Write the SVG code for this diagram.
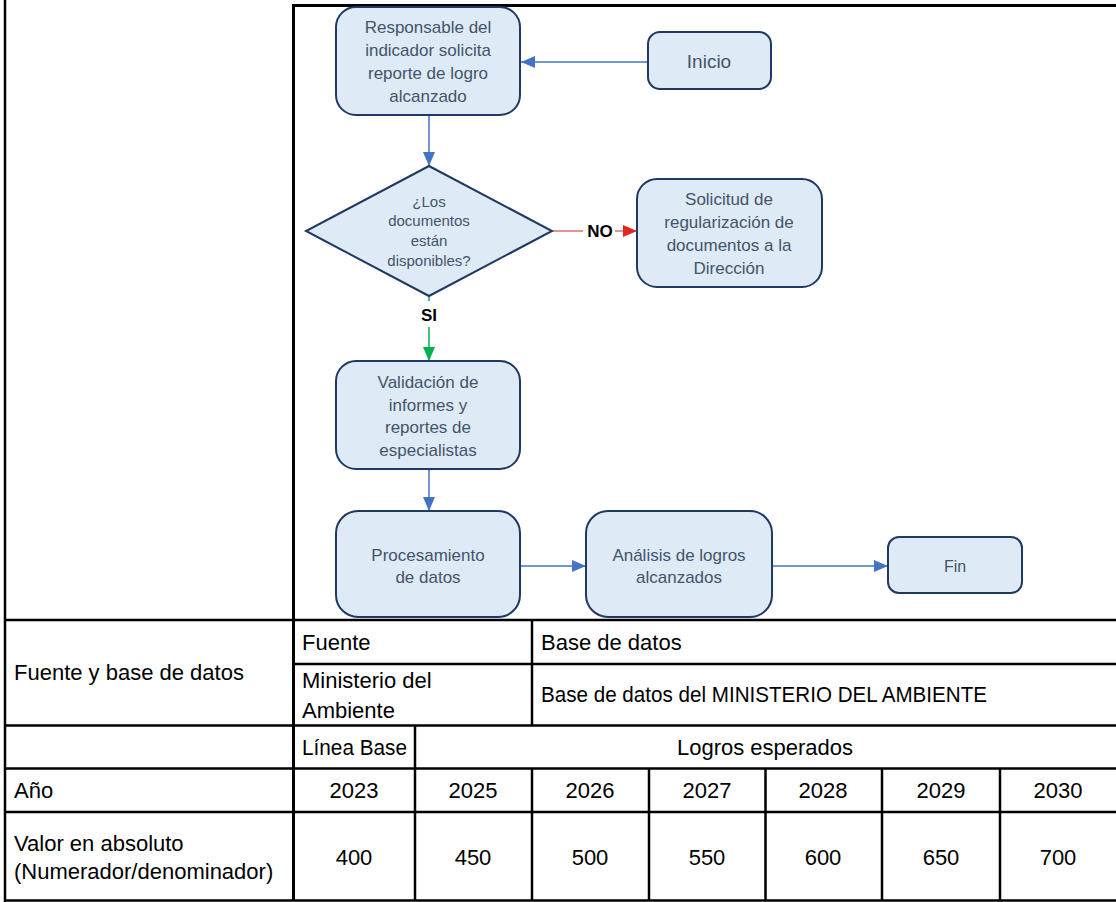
<svg xmlns="http://www.w3.org/2000/svg" width="1116" height="902" viewBox="0 0 1116 902">
<style>
.box{fill:#DEEAF6;stroke:#1F3864;stroke-width:2}
.bt{font-family:"Liberation Sans",Arial,sans-serif;font-size:17px;fill:#44546A;text-anchor:middle}
.dt{font-family:"Liberation Sans",Arial,sans-serif;font-size:15px;fill:#44546A;text-anchor:middle}
.lbl{font-family:"Liberation Sans",Arial,sans-serif;font-size:17px;font-weight:bold;fill:#000;text-anchor:middle}
.tt{font-family:"Liberation Sans",Arial,sans-serif;font-size:22px;fill:#000}
.tc{text-anchor:middle}
.grid{stroke:#000;stroke-width:2.5;fill:none}
.cb{stroke:#4472C4;stroke-width:1.5;fill:none}
.cr{stroke:#E86A6A;stroke-width:1.5;fill:none}
.cg{stroke:#00B050;stroke-width:1.5;fill:none}
</style>
<defs>
<marker id="ab" viewBox="0 0 14 12" refX="14" refY="6" markerWidth="14" markerHeight="12" markerUnits="userSpaceOnUse" orient="auto"><path d="M0,0 L14,6 L0,12 z" fill="#4472C4"/></marker>
<marker id="ar" viewBox="0 0 14 12" refX="14" refY="6" markerWidth="14" markerHeight="12" markerUnits="userSpaceOnUse" orient="auto"><path d="M0,0 L14,6 L0,12 z" fill="#E52620"/></marker>
<marker id="ag" viewBox="0 0 14 12" refX="14" refY="6" markerWidth="14" markerHeight="12" markerUnits="userSpaceOnUse" orient="auto"><path d="M0,0 L14,6 L0,12 z" fill="#00B050"/></marker>
</defs>
<rect x="0" y="0" width="1116" height="902" fill="#fff"/>

<g id="table-grid" class="grid">
<line x1="5" y1="0" x2="5" y2="902"/>
<line x1="293.5" y1="4" x2="293.5" y2="901" style="stroke-width:3"/>
<line x1="292" y1="5.5" x2="1116" y2="5.5" style="stroke-width:3"/>
<line x1="4" y1="620" x2="1116" y2="620"/>
<line x1="293" y1="664" x2="1116" y2="664"/>
<line x1="4" y1="725.5" x2="1116" y2="725.5"/>
<line x1="4" y1="768.5" x2="1116" y2="768.5"/>
<line x1="4" y1="812" x2="1116" y2="812"/>
<line x1="4" y1="900.5" x2="1116" y2="900.5"/>
<line x1="415" y1="725" x2="415" y2="901"/>
<line x1="532" y1="620" x2="532" y2="726"/>
<line x1="532" y1="768" x2="532" y2="901"/>
<line x1="649" y1="768" x2="649" y2="901"/>
<line x1="765.5" y1="768" x2="765.5" y2="901"/>
<line x1="882" y1="768" x2="882" y2="901"/>
<line x1="1000" y1="768" x2="1000" y2="901"/>
</g>

<g id="connectors">
<line class="cb" x1="648" y1="62" x2="521" y2="62" marker-end="url(#ab)"/>
<line class="cb" x1="429" y1="115" x2="429" y2="166" marker-end="url(#ab)"/>
<line class="cr" x1="552" y1="231" x2="583" y2="231"/>
<line class="cr" x1="615" y1="231" x2="637" y2="231" marker-end="url(#ar)"/>
<text class="lbl" x="600" y="237">NO</text>
<line class="cg" x1="429" y1="296" x2="429" y2="301"/>
<line class="cg" x1="429" y1="327" x2="429" y2="361" marker-end="url(#ag)"/>
<text class="lbl" x="429" y="321">SI</text>
<line class="cb" x1="429" y1="469" x2="429" y2="511" marker-end="url(#ab)"/>
<line class="cb" x1="520" y1="566" x2="586" y2="566" marker-end="url(#ab)"/>
<line class="cb" x1="772" y1="566" x2="888" y2="566" marker-end="url(#ab)"/>
</g>

<g id="n-responsable">
<rect class="box" x="336" y="7" width="184" height="108" rx="20"/>
<text class="bt" x="428" y="33">Responsable del</text>
<text class="bt" x="428" y="56">indicador solicita</text>
<text class="bt" x="428" y="79">reporte de logro</text>
<text class="bt" x="428" y="102">alcanzado</text>
</g>
<g id="n-inicio">
<rect class="box" x="648" y="32" width="123" height="57" rx="12"/>
<text class="bt" x="709" y="68" style="font-size:19px">Inicio</text>
</g>
<g id="n-decision">
<polygon class="box" points="429,166 552,231 429,296 306,231"/>
<text class="dt" x="429" y="207">¿Los</text>
<text class="dt" x="429" y="226">documentos</text>
<text class="dt" x="429" y="246">están</text>
<text class="dt" x="429" y="266">disponibles?</text>
</g>
<g id="n-solicitud">
<rect class="box" x="637" y="179" width="185" height="108" rx="20"/>
<text class="bt" x="729" y="205">Solicitud de</text>
<text class="bt" x="729" y="228">regularización  de</text>
<text class="bt" x="729" y="251">documentos a la</text>
<text class="bt" x="729" y="274">Dirección</text>
</g>
<g id="n-validacion">
<rect class="box" x="336" y="361" width="184" height="108" rx="20"/>
<text class="bt" x="428" y="388">Validación de</text>
<text class="bt" x="428" y="411">informes y</text>
<text class="bt" x="428" y="433">reportes de</text>
<text class="bt" x="428" y="456">especialistas</text>
</g>
<g id="n-procesamiento">
<rect class="box" x="336" y="511" width="184" height="106" rx="22"/>
<text class="bt" x="428" y="561">Procesamiento</text>
<text class="bt" x="428" y="583">de datos</text>
</g>
<g id="n-analisis">
<rect class="box" x="586" y="511" width="186" height="106" rx="22"/>
<text class="bt" x="679" y="561">Análisis de logros</text>
<text class="bt" x="679" y="583">alcanzados</text>
</g>
<g id="n-fin">
<rect class="box" x="888" y="537" width="134" height="56" rx="11"/>
<text class="bt" x="955" y="572" style="font-size:16px">Fin</text>
</g>

<g id="table-text" class="tt">
<text x="14" y="680">Fuente y base de datos</text>
<text x="302" y="650">Fuente</text>
<text x="541" y="650">Base de datos</text>
<text x="302" y="688">Ministerio del</text>
<text x="302" y="718">Ambiente</text>
<text x="541" y="702" textLength="446" lengthAdjust="spacingAndGlyphs">Base de datos del MINISTERIO DEL AMBIENTE</text>
<text x="302" y="755" textLength="105" lengthAdjust="spacingAndGlyphs">Línea Base</text>
<text class="tc" x="765" y="755">Logros esperados</text>
<text x="14" y="798">Año</text>
<text class="tc" x="354" y="798">2023</text>
<text class="tc" x="473" y="798">2025</text>
<text class="tc" x="590" y="798">2026</text>
<text class="tc" x="707" y="798">2027</text>
<text class="tc" x="823" y="798">2028</text>
<text class="tc" x="941" y="798">2029</text>
<text class="tc" x="1058" y="798">2030</text>
<text x="14" y="851">Valor en absoluto</text>
<text x="14" y="879">(Numerador/denominador)</text>
<text class="tc" x="354" y="865">400</text>
<text class="tc" x="473" y="865">450</text>
<text class="tc" x="590" y="865">500</text>
<text class="tc" x="707" y="865">550</text>
<text class="tc" x="823" y="865">600</text>
<text class="tc" x="941" y="865">650</text>
<text class="tc" x="1058" y="865">700</text>
</g>
</svg>
